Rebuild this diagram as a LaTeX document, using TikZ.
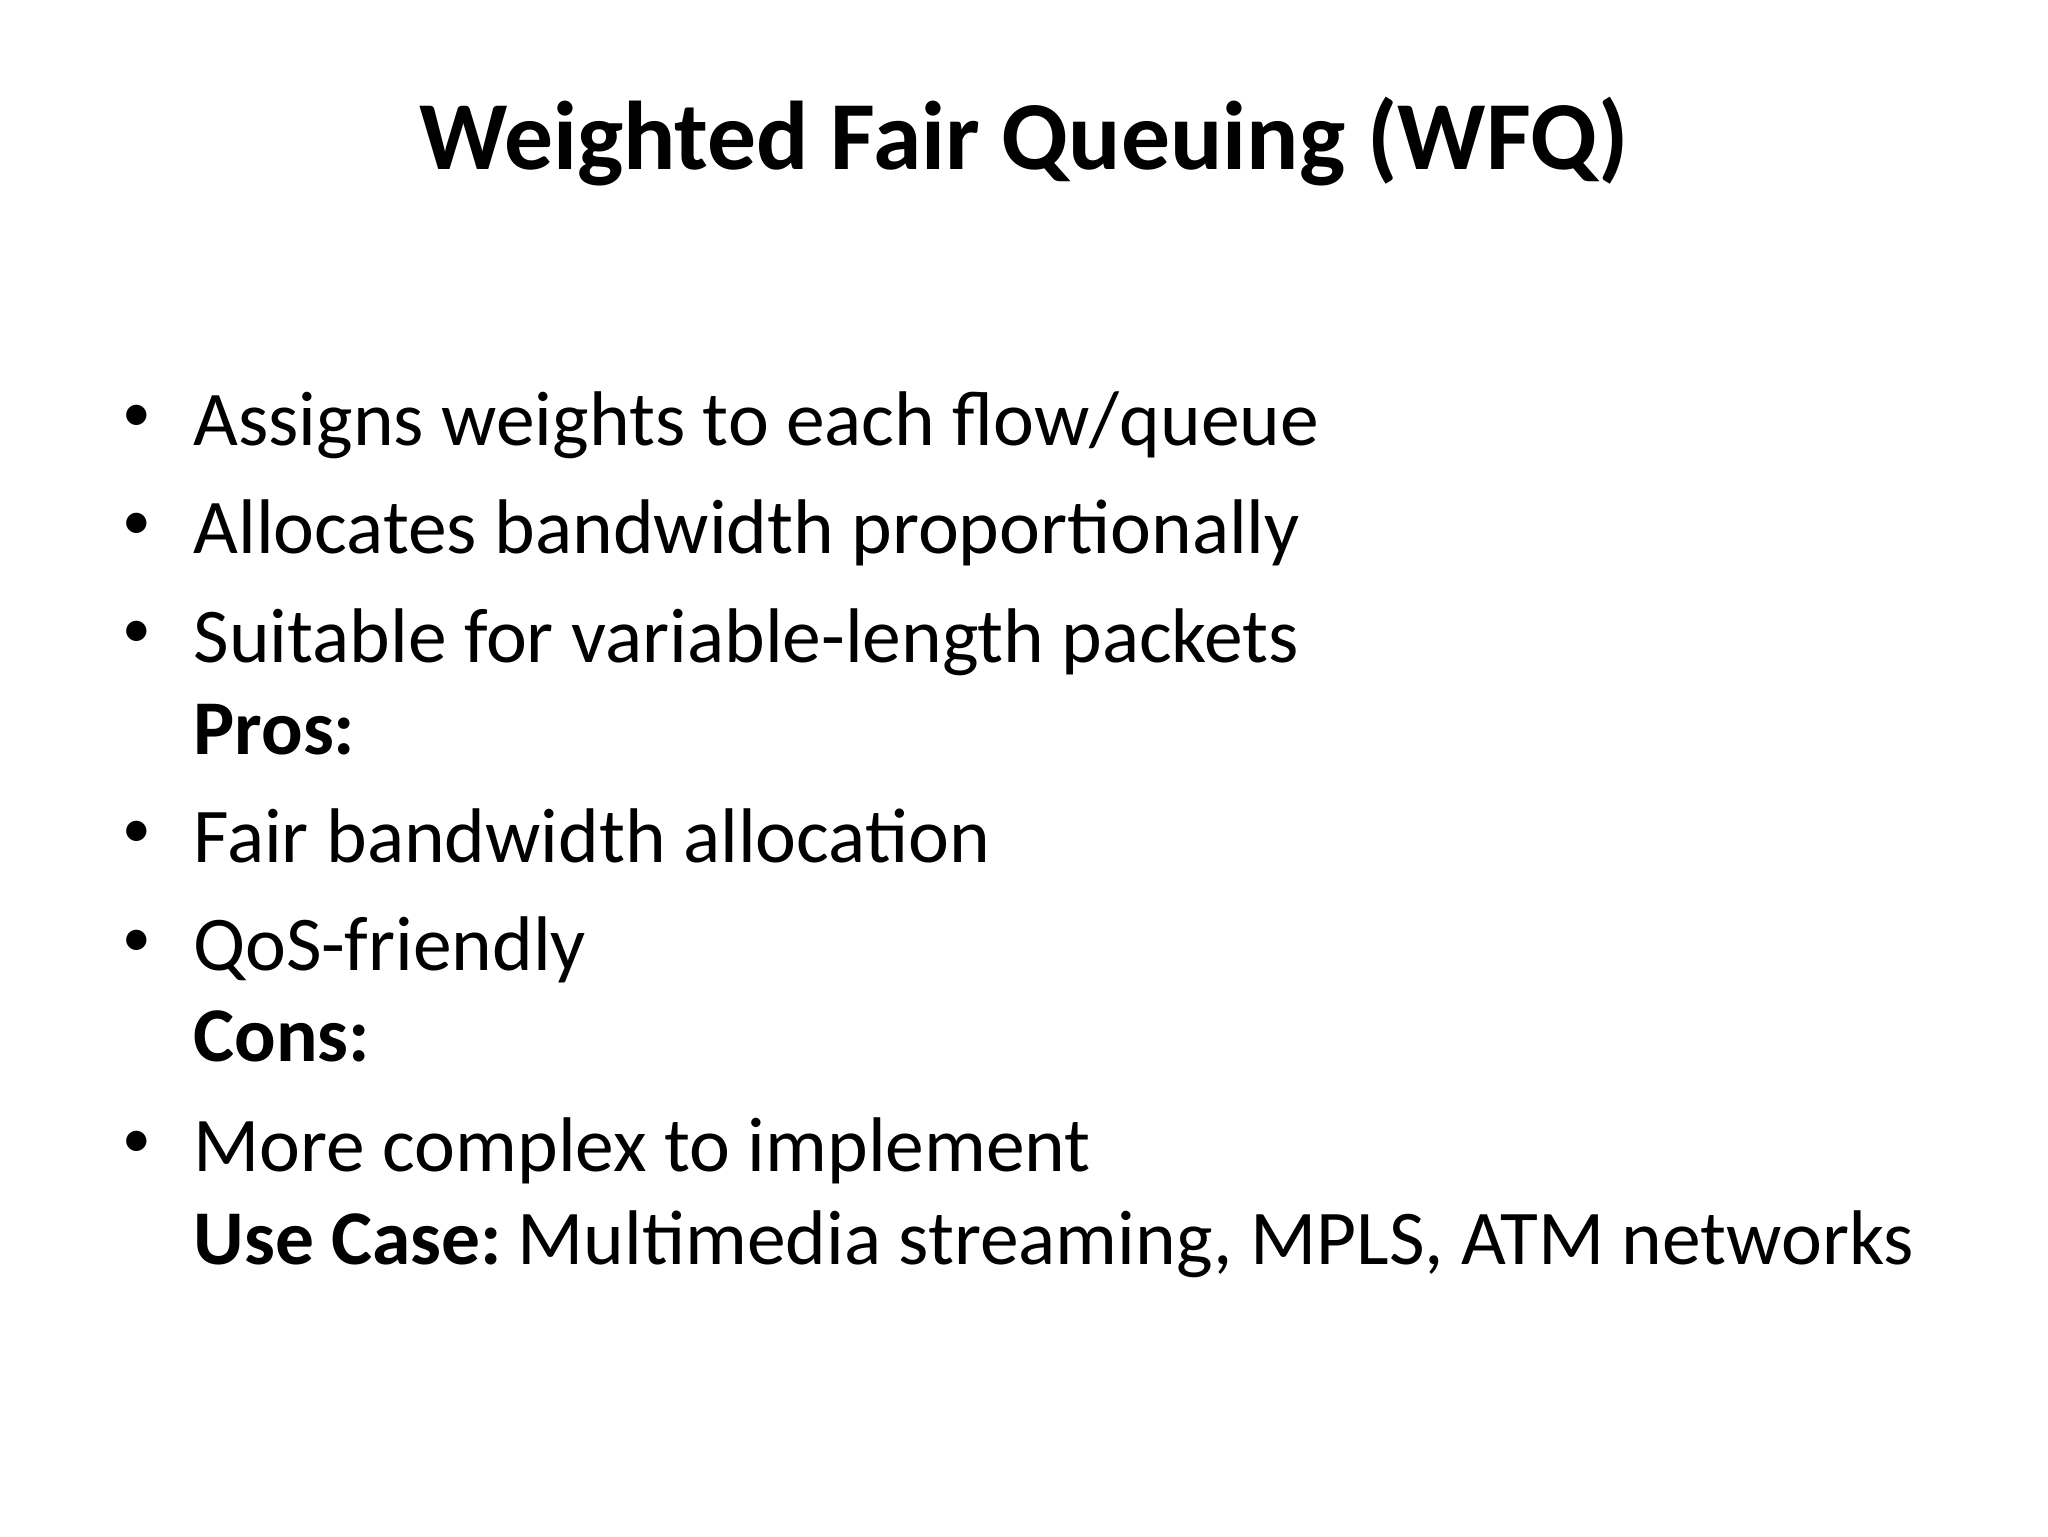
\documentclass[tikz,border=0pt]{standalone}
\usepackage{fontspec}
\setmainfont{Carlito}
\begin{document}
\begin{tikzpicture}[x=1pt,y=-1pt,
  body/.style={anchor=base west,inner sep=0pt,font=\fontsize{59.3}{70}\selectfont},
  dot/.style={anchor=base,inner sep=0pt,font=\fontsize{44}{50}\selectfont}]
\useasboundingbox[fill=white] (0,0) rectangle (1568,1176);
\node[anchor=base,inner sep=0pt,font=\fontsize{74.7}{86}\bfseries] (title) at (784,130) {Weighted Fair Queuing (WFQ)};
\foreach \n/\y/\t in {b1/341/{Assigns weights to each flow/queue},
                      b2/424/{Allocates bandwidth proportionally},
                      b3/507/{Suitable for variable-length packets},
                      b4/660/{Fair bandwidth allocation},
                      b5/743/{QoS-friendly},
                      b6/897/{More complex to implement}}{
  \node[dot] (d\n) at (105,\y-11) {•};
  \node[body] (\n) at (148,\y) {\t};
}
\node[body] (pros) at (148,578) {\textbf{Pros:}};
\node[body] (cons) at (148,813) {\textbf{Cons:}};
\node[body] (use) at (148,968) {\textbf{Use Case:}\hspace{-0.1em} Multimedia streaming, MPLS, ATM networks};
\end{tikzpicture}
\end{document}
